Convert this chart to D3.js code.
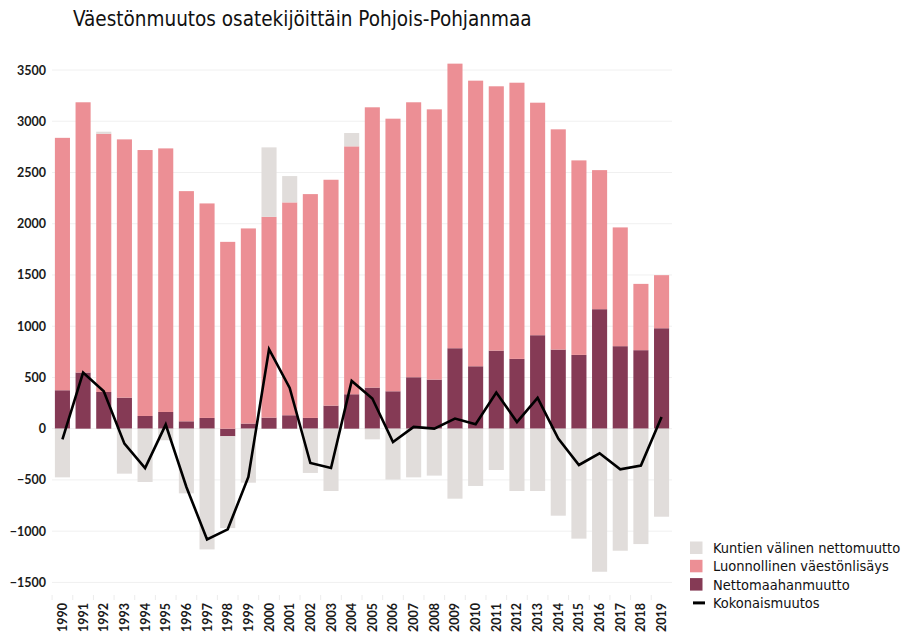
<!doctype html>
<html lang="fi">
  <head>
    <meta charset="utf-8">
    <title>Väestönmuutos osatekijöittäin Pohjois-Pohjanmaa</title>
    <style>
      body { margin: 0; background: #fff; }
      svg { display: block; }
      .axis text { font-family: Lato, "DejaVu Sans", sans-serif; font-weight: bold; font-size: 12.5px; fill: #1a1a1a; }
    </style>
  </head>
  <body>
    <script src="https://cdn.jsdelivr.net/npm/d3@7"></script>
    <script>

    // years on the x axis
    const years = d3.range(1990, 2020).map(String);

    // Nettomaahanmuutto (net immigration)
    const nettomaahanmuutto = [375, 548, 358, 303, 124, 163, 72, 105, -74, 50,
                               108, 131, 105, 225, 336, 401, 365, 502, 479, 785,
                               609, 762, 681, 912, 772, 720, 1166, 805, 766, 980];

    // Luonnollinen väestönlisäys (natural increase)
    const luonnollinen = [2463, 2637, 2520, 2520, 2595, 2572, 2246, 2093, 1823, 1904,
                          1959, 2077, 2184, 2204, 2419, 2735, 2660, 2683, 2637, 2777,
                          2787, 2579, 2695, 2269, 2149, 1898, 1357, 1159, 647, 518];

    // Kuntien välinen nettomuutto (inter-municipal net migration)
    const kuntien = [-475, 0, 20, -439, -520, -113, -631, -1178, -896, -527,
                     678, 257, -432, -608, 130, -104, -497, -475, -458, -683,
                     -559, -403, -608, -608, -849, -1073, -1396, -1191, -1126, -859];

    // Kokonaismuutos (total change, line)
    const kokonais = [-104, 548, 365, -146, -384, 40, -569, -1080, -982, -471,
                      775, 397, -335, -384, 466, 294, -130, 17, 1, 99,
                      43, 353, 65, 300, -97, -354, -240, -396, -360, 114];

    const yTicks = d3.range(-1500, 3501, 500);

    const seriesKeys   = ["maahan", "luonnollinen", "kuntien"];
    const seriesColors = {maahan: "#853a55", luonnollinen: "#ec8f95", kuntien: "#e1dddb"};

    const legendItems = [
      {label: "Kuntien välinen nettomuutto", color: "#e1dddb", type: "rect"},
      {label: "Luonnollinen väestönlisäys",  color: "#ec8f95", type: "rect"},
      {label: "Nettomaahanmuutto",           color: "#853a55", type: "rect"},
      {label: "Kokonaismuutos",              color: "#000",    type: "line"}
    ];

    const width = 905, height = 638;

    const svg = d3.select("body").append("svg")
        .attr("width", width)
        .attr("height", height);

    // table for the stack
    const rows = years.map((y, i) => ({
      year: y,
      maahan: nettomaahanmuutto[i],
      luonnollinen: luonnollinen[i],
      kuntien: kuntien[i]
    }));

    const stack = d3.stack()
        .keys(seriesKeys)
        .offset(d3.stackOffsetDiverging);

    const x = d3.scaleBand()
        .domain(years)
        .range([52, 672])
        .paddingInner(0.27)
        .paddingOuter(0.14);

    const y = d3.scaleLinear()
        .domain([-1500, 3500])
        .range([582.4, 70]);

    // title
    svg.append("text")
        .attr("x", 73)
        .attr("y", 26)
        .style("font-family", "'DejaVu Sans Condensed', 'DejaVu Sans', sans-serif")
        .style("font-size", "20.5px")
        .style("fill", "#111")
        .text("Väestönmuutos osatekijöittäin Pohjois-Pohjanmaa");

    // gridlines
    svg.append("g")
      .selectAll("line")
      .data(yTicks)
      .join("line")
        .attr("x1", 52)
        .attr("x2", 672)
        .attr("y1", d => y(d))
        .attr("y2", d => y(d))
        .attr("stroke", "#f0f0f0")
        .attr("stroke-width", 1);

    // y axis labels
    const yAxis = svg.append("g")
        .attr("class", "axis")
        .attr("transform", "translate(46,0)")
        .call(d3.axisLeft(y).tickValues(yTicks).tickSize(0).tickPadding(0).tickFormat(d3.format("d")));
    yAxis.select(".domain").remove();

    // x axis labels, rotated
    const xAxis = svg.append("g")
        .attr("class", "axis")
        .attr("transform", "translate(0,597)")
        .call(d3.axisBottom(x).tickSize(0).tickPadding(0));
    xAxis.select(".domain").remove();
    xAxis.selectAll("text")
        .attr("transform", "rotate(-90)")
        .attr("text-anchor", "end")
        .attr("x", -6)
        .attr("y", 0)
        .attr("dy", "0.36em");

    // faint ticks between categories
    svg.append("g")
      .selectAll("line")
      .data(years)
      .join("line")
        .attr("x1", d => x(d) - x.step() * x.paddingInner() / 2)
        .attr("x2", d => x(d) - x.step() * x.paddingInner() / 2)
        .attr("y1", 595)
        .attr("y2", 600)
        .attr("stroke", "#ececec");

    // stacked bars
    svg.append("g")
      .selectAll("g")
      .data(stack(rows))
      .join("g")
        .attr("fill", d => seriesColors[d.key])
      .selectAll("rect")
      .data(d => d)
      .join("rect")
        .attr("x", d => x(d.data.year))
        .attr("width", x.bandwidth())
        .attr("y", d => y(Math.max(d[0], d[1])))
        .attr("height", d => Math.abs(y(d[0]) - y(d[1])));

    // total change line
    const line = d3.line()
        .x((d, i) => x(years[i]) + x.bandwidth() / 2)
        .y(d => y(d));

    svg.append("path")
        .datum(kokonais)
        .attr("d", line)
        .attr("fill", "none")
        .attr("stroke", "#000")
        .attr("stroke-width", 2.6)
        .attr("stroke-linejoin", "miter");

    // legend
    const legend = svg.append("g")
        .attr("transform", "translate(690,548)");

    const item = legend.selectAll("g")
      .data(legendItems)
      .join("g")
        .attr("transform", (d, i) => `translate(0,${i * 18.3})`);

    item.filter(d => d.type === "rect").append("rect")
        .attr("x", 0)
        .attr("y", -6.5)
        .attr("width", 12.5)
        .attr("height", 12.5)
        .attr("fill", d => d.color);

    item.filter(d => d.type === "line").append("line")
        .attr("x1", 3)
        .attr("x2", 15)
        .attr("y1", 0)
        .attr("y2", 0)
        .attr("stroke", d => d.color)
        .attr("stroke-width", 3);

    item.append("text")
        .attr("x", 23)
        .attr("y", 0)
        .attr("dy", "0.35em")
        .style("font-family", "'DejaVu Sans Condensed', 'DejaVu Sans', sans-serif")
        .style("font-size", "14.5px")
        .style("fill", "#111")
        .text(d => d.label);

    </script>
  </body>
</html>
